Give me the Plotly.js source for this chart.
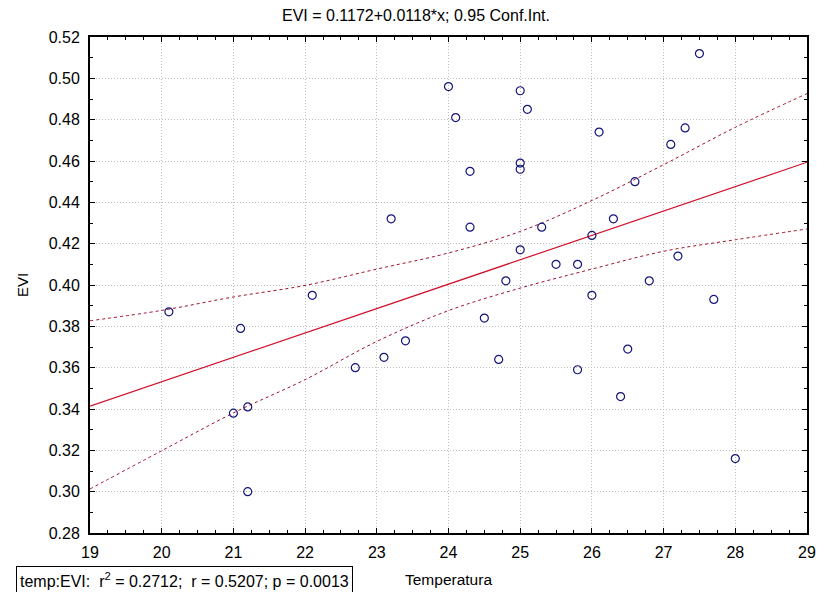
<!DOCTYPE html>
<html>
<head>
<meta charset="utf-8">
<script src="https://cdn.plot.ly/plotly-3.0.1.min.js"></script>
<style>
  html, body { margin: 0; padding: 0; background: #fff; }
  #chart { width: 827px; height: 592px; }
</style>
</head>
<body>
<div id="chart"></div>
<script>
const temperature = [20.1, 21.0, 21.1, 21.2, 21.2, 22.1, 22.7, 23.1, 23.2, 23.4,
                     24.0, 24.1, 24.3, 24.3, 24.5, 24.7, 24.8, 25.0, 25.0, 25.0,
                     25.0, 25.1, 25.3, 25.5, 25.8, 25.8, 26.0, 26.0, 26.1, 26.3,
                     26.4, 26.5, 26.6, 26.8, 27.1, 27.2, 27.3, 27.5, 27.7, 28.0];
const evi = [0.387, 0.338, 0.379, 0.341, 0.300, 0.395, 0.360, 0.365, 0.432, 0.373,
             0.496, 0.481, 0.455, 0.428, 0.384, 0.364, 0.402, 0.494, 0.459, 0.456,
             0.417, 0.485, 0.428, 0.410, 0.410, 0.359, 0.424, 0.395, 0.474, 0.432,
             0.346, 0.369, 0.450, 0.402, 0.468, 0.414, 0.476, 0.512, 0.393, 0.316];

// Fitted line EVI = 0.1172 + 0.0118*x, read at the axis ends
const fitX = [19, 29];
const fitY = [0.3414, 0.4594];

// 0.95 confidence band at integer temperatures
const bandX = [19, 20, 21, 22, 23, 24, 25, 26, 27, 28, 29];
const bandUpper = [0.3827, 0.3877, 0.3942, 0.3998, 0.4077, 0.4155, 0.4259, 0.4409, 0.4582, 0.4763, 0.4926];
const bandLower = [0.3013, 0.3198, 0.3381, 0.3542, 0.3727, 0.3876, 0.3985, 0.4077, 0.4163, 0.4219, 0.4271];

const titleText = 'EVI = 0.1172+0.0118*x; 0.95 Conf.Int.';
const statsText = 'temp:EVI:  r<sup>2</sup> = 0.2712;  r = 0.5207; p = 0.0013';
const xTitle = 'Temperatura';
const yTitle = 'EVI';

const FONT = 'Arial, "Liberation Sans", sans-serif';
const lineRed = '#d0102a';
const dashRed = '#a0102a';

const traces = [
  {
    x: bandX, y: bandUpper, type: 'scatter', mode: 'lines',
    line: {color: dashRed, width: 1, dash: '3px,3px', shape: 'spline', smoothing: 1},
    hoverinfo: 'skip', showlegend: false
  },
  {
    x: bandX, y: bandLower, type: 'scatter', mode: 'lines',
    line: {color: dashRed, width: 1, dash: '3px,3px', shape: 'spline', smoothing: 1},
    hoverinfo: 'skip', showlegend: false
  },
  {
    x: fitX, y: fitY, type: 'scatter', mode: 'lines',
    line: {color: lineRed, width: 1.2},
    hoverinfo: 'skip', showlegend: false
  },
  {
    x: temperature, y: evi, type: 'scatter', mode: 'markers',
    marker: {symbol: 'circle-open', size: 8, color: '#14147a', line: {width: 1.2, color: '#14147a'}},
    showlegend: false
  }
];

const axisCommon = {
  showline: true, linecolor: '#000', linewidth: 2, mirror: 'ticks',
  ticks: 'inside', ticklen: 5, tickcolor: '#000', tickwidth: 1,
  showgrid: true, gridcolor: '#bdbdbd', gridwidth: 1, griddash: '1px,2px',
  zeroline: false,
  tickfont: {family: FONT, size: 16, color: '#000'}
};

const layout = {
  width: 827, height: 592,
  paper_bgcolor: '#fff', plot_bgcolor: '#fff',
  margin: {l: 90, r: 20, t: 37, b: 59},
  font: {family: FONT, color: '#000'},
  title: {
    text: titleText, x: 0.503, xanchor: 'center', y: 0.974, yanchor: 'middle',
    font: {family: FONT, size: 16, color: '#000'}
  },
  xaxis: Object.assign({}, axisCommon, {
    range: [19, 29], dtick: 1, tick0: 19, ticklabelstandoff: 4,
    minor: {dtick: 0.25, ticks: 'inside', ticklen: 3, tickcolor: '#000', showgrid: false},
    title: {text: xTitle, standoff: 14, font: {family: FONT, size: 15.5, color: '#000'}}
  }),
  yaxis: Object.assign({}, axisCommon, {
    range: [0.28, 0.52], dtick: 0.02, tick0: 0.28, tickformat: '.2f', ticklabelstandoff: 5,
    minor: {dtick: 0.01, ticks: 'inside', ticklen: 3, tickcolor: '#000', showgrid: false},
    title: {text: yTitle, standoff: 16, font: {family: FONT, size: 15, color: '#000'}}
  }),
  annotations: [
    {
      text: statsText, xref: 'paper', yref: 'paper',
      x: -0.103, y: -0.066, xanchor: 'left', yanchor: 'top',
      showarrow: false, align: 'left',
      bordercolor: '#000', borderwidth: 1, borderpad: 3, bgcolor: '#fff',
      font: {family: FONT, size: 16, color: '#000'}
    }
  ]
};

Plotly.newPlot('chart', traces, layout, {displayModeBar: false, staticPlot: true});
</script>
</body>
</html>
